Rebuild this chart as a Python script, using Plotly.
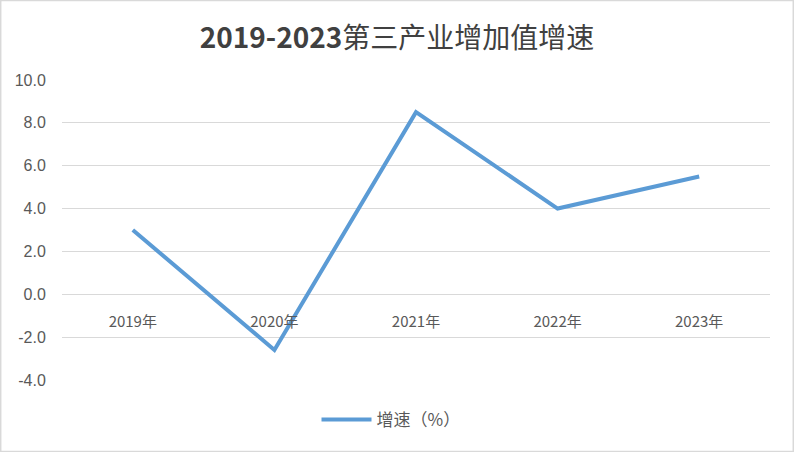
import plotly.graph_objects as go

years = ["2019年", "2020年", "2021年", "2022年", "2023年"]
growth = [3.0, -2.6, 8.5, 4.0, 5.5]
y_ticks = [-4, -2, 0, 2, 4, 6, 8, 10]
y_tick_labels = ["-4.0", "-2.0", "0.0", "2.0", "4.0", "6.0", "8.0", "10.0"]

fig = go.Figure()
fig.add_trace(go.Scatter(
    x=years, y=growth, mode="lines", name="增速（%）",
    line=dict(color="#5b9bd5", width=4),
))

W, H = 794, 452
ml, mr, mt, mb = 62, 24, 80, 72
plot_w = W - ml - mr
plot_h = H - mt - mb
zero_frac = (0 - (-4)) / (10 - (-4))

fig.update_layout(
    width=W, height=H,
    margin=dict(l=ml, r=mr, t=mt, b=mb),
    paper_bgcolor="white", plot_bgcolor="white",
    font=dict(family="Noto Sans CJK SC, sans-serif", color="#595959", size=14),
    title=dict(text="<b>2019-2023</b>第三产业增加值增速", x=0.5, xanchor="center",
               y=1 - 38 / H, yanchor="middle",
               font=dict(size=28, color="#404040", family="Noto Sans CJK SC")),
    showlegend=True,
    legend=dict(orientation="h", x=(391 - ml) / plot_w, xanchor="center",
                y=-(420 - (H - mb)) / plot_h,
                yanchor="middle", font=dict(size=17, color="#595959"),
                itemwidth=50),
    xaxis=dict(
        type="category", anchor="free", position=zero_frac,
        showgrid=False, showline=False, zeroline=False,
        ticks="outside", ticklen=14, tickcolor="rgba(0,0,0,0)",
        tickfont=dict(size=15, color="#595959"),
        range=[-0.5, 4.5],
    ),
    yaxis=dict(
        range=[-4, 10], tickvals=y_ticks, ticktext=y_tick_labels,
        showgrid=True, gridcolor="#d9d9d9", gridwidth=1,
        zeroline=True, zerolinecolor="#d9d9d9", zerolinewidth=1,
        showline=False, ticks="outside", ticklen=12, tickcolor="rgba(0,0,0,0)",
        tickfont=dict(size=16, color="#595959", family="Liberation Sans, sans-serif"),
    ),
    shapes=[dict(type="rect", xref="paper", yref="paper",
                 x0=-ml / plot_w + 0.001, x1=1 + mr / plot_w - 0.001,
                 y0=-mb / plot_h + 0.002, y1=1 + mt / plot_h - 0.002,
                 line=dict(color="#d9d9d9", width=1.5), layer="below")],
)

fig.write_html("out.html", config={"displayModeBar": False},
               post_script="document.body.style.margin='0';")
